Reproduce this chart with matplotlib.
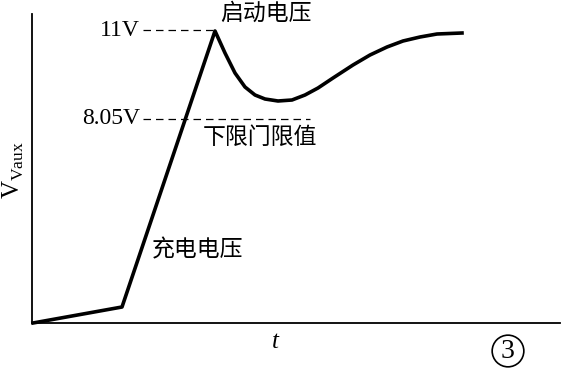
import matplotlib
matplotlib.use("Agg")
import matplotlib.pyplot as plt

# шрифты
cjk = ['Noto Sans CJK SC', 'DejaVu Sans']
serif = ['Liberation Serif', 'DejaVu Serif']

# КРИВАЯ Vaux (условные единицы)
t_vals = [1, 90, 183, 193, 203, 213, 223, 233, 246, 260, 273, 286, 301,
          321, 338, 355, 371, 388, 405, 430]
v_vals = [0, 16, 292, 270, 250, 236, 228, 224, 222, 223, 228, 235, 245,
          258, 268, 276, 282, 286, 289, 290]

# уровни порогов
v_start = 293     # 11V
v_low = 204       # 8.05V
dash_x0 = 111
dash_x1_start = 183
dash_x1_low = 278

fig = plt.figure(figsize=(5.67, 3.69), dpi=100)
ax = fig.add_axes([32/567, 46/369, 528/567, 309/369])
ax.set_xlim(0, 528)
ax.set_ylim(0, 309)

ax.plot(t_vals, v_vals, color="black", linewidth=2.6, solid_joinstyle="round", clip_on=False)

# пунктир
ax.plot([dash_x0, dash_x1_start], [v_start, v_start], color="black", linewidth=0.9, dashes=(6, 4))
ax.plot([dash_x0, dash_x1_low], [v_low, v_low], color="black", linewidth=0.9, dashes=(6, 4))

# ОСИ
for s in ["top", "right"]:
    ax.spines[s].set_visible(False)
ax.spines["left"].set_linewidth(1.3)
ax.spines["bottom"].set_linewidth(1.3)
ax.set_xticks([])
ax.set_yticks([])

# подписи
ax.text(108, v_start, "11V", family=serif, fontsize=17, ha="right", va="center")
ax.text(108, v_low, "8.05V", family=serif, fontsize=17, ha="right", va="center")
ax.text(188, 310, "启动电压", family=cjk, fontsize=16.5, weight="medium",
        ha="left", va="center", clip_on=False)
ax.text(171, 186, "下限门限值", family=cjk, fontsize=16.5, weight="medium",
        ha="left", va="center")
ax.text(120, 73, "充电电压", family=cjk, fontsize=16.5, weight="medium",
        ha="left", va="center")

fig.text(13/567, 1 - 170/369, r"V$_{\mathregular{Vaux}}$", family=serif, fontsize=18,
         rotation=90, ha="center", va="center")
fig.text(275/567, 1 - 342/369, "t", family=serif, style="italic", fontsize=18,
         ha="center", va="center")
fig.text(508/567, 1 - 351/369, "3", family=serif, fontsize=20, ha="center", va="center",
         bbox=dict(boxstyle="circle,pad=0.12", fc="none", ec="black", lw=1.2))

fig.savefig("out.png", dpi=100)
